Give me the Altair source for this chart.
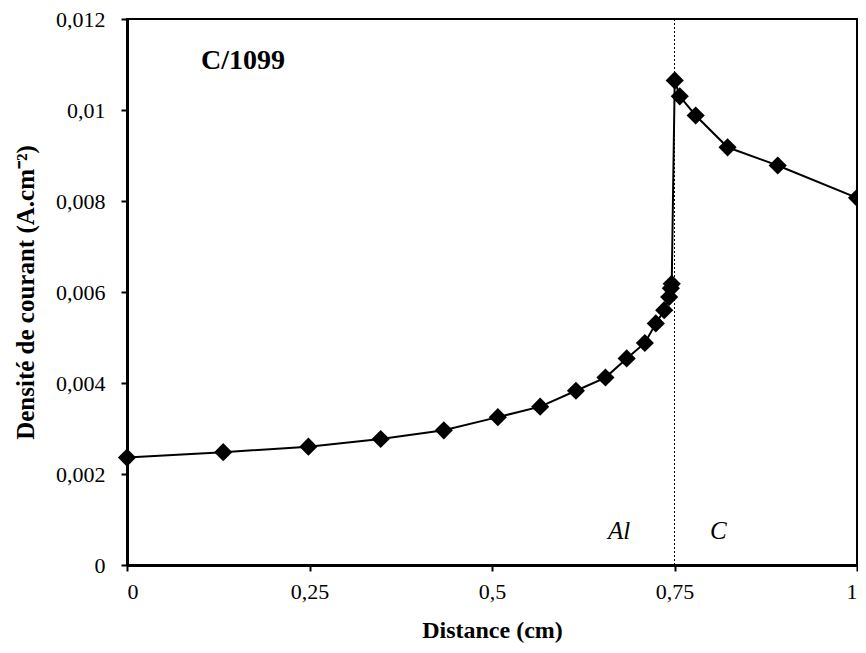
import altair as alt
import pandas as pd

# Data
distance = [0, 0.1318, 0.2485, 0.3475, 0.434, 0.508, 0.566, 0.615, 0.6554, 0.6845,
            0.7094, 0.7244, 0.7359, 0.7427, 0.745, 0.7462, 0.7503, 0.7572, 0.779,
            0.8227, 0.8914, 1.0]
density = [0.00236, 0.00248, 0.0026, 0.00277, 0.00296, 0.00325, 0.00348, 0.00383,
           0.00412, 0.00454, 0.00488, 0.00531, 0.0056, 0.00589, 0.00608, 0.00618,
           0.01065, 0.0103, 0.00988, 0.00918, 0.00878, 0.00807]

interface_x = [0.75]
region_labels = ["Al", "C"]
region_x = [0.674, 0.81]
region_y = [0.00058, 0.00058]
sample_label = ["C/1099"]
sample_x = [0.159]
sample_y = [0.0109]

x_ticks = [0, 0.25, 0.5, 0.75, 1]
y_ticks = [0, 0.002, 0.004, 0.006, 0.008, 0.01, 0.012]

FONT = "Times New Roman, Liberation Serif, Times, serif"

df = pd.DataFrame({"x": distance, "y": density, "i": list(range(len(distance)))})
df_rule = pd.DataFrame({"x": interface_x})
df_reg = pd.DataFrame({"t": region_labels, "x": region_x, "y": region_y})
df_s = pd.DataFrame({"t": sample_label, "x": sample_x, "y": sample_y})

xscale = alt.Scale(domain=[0, 1], nice=False, zero=False)
yscale = alt.Scale(domain=[0, 0.012], nice=False)

xaxis = alt.Axis(
    title="Distance (cm)", values=x_ticks,
    labelExpr="replace(format(datum.value, '~g'), '.', ',')",
    grid=False, domainColor="black", domainWidth=3, tickColor="black", tickWidth=2,
    tickSize=6, labelFont=FONT, labelFontSize=22, labelColor="black", labelPadding=10,
    titleFont=FONT, titleFontSize=24, titleFontWeight="bold", titleColor="black",
    titleBaseline="alphabetic", titleY=72,
)
yaxis = alt.Axis(
    title="Densité de courant (A.cm⁻²)", values=y_ticks,
    labelExpr="replace(format(datum.value, '~g'), '.', ',')",
    grid=False, domainColor="black", domainWidth=3, tickColor="black", tickWidth=2,
    tickSize=6, labelFont=FONT, labelFontSize=22, labelColor="black", labelPadding=16,
    titleFont=FONT, titleFontSize=25, titleFontWeight="bold", titleColor="black",
    titleBaseline="alphabetic", titleX=-94, titleAngle=270,
)

base = alt.Chart(df)

rule = alt.Chart(df_rule).mark_rule(color="black", strokeWidth=1, strokeDash=[2, 2]).encode(
    x=alt.X("x:Q", scale=xscale, axis=xaxis)
)

line = base.mark_line(color="black", strokeWidth=2).encode(
    x=alt.X("x:Q", scale=xscale, axis=xaxis),
    y=alt.Y("y:Q", scale=yscale, axis=yaxis),
    order="i:Q",
)

pts = base.mark_point(shape="diamond", filled=True, size=330, color="black", opacity=1).encode(
    x=alt.X("x:Q", scale=xscale),
    y=alt.Y("y:Q", scale=yscale),
)

reg = alt.Chart(df_reg).mark_text(font=FONT, fontSize=25, fontStyle="italic", color="black",
                                  baseline="alphabetic", align="center").encode(
    x=alt.X("x:Q", scale=xscale), y=alt.Y("y:Q", scale=yscale), text="t:N"
)

samp = alt.Chart(df_s).mark_text(font=FONT, fontSize=28, fontWeight="bold", color="black",
                                 baseline="alphabetic", align="center").encode(
    x=alt.X("x:Q", scale=xscale), y=alt.Y("y:Q", scale=yscale), text="t:N"
)

chart = alt.layer(rule, line, pts, reg, samp).properties(
    width=730, height=546,
    autosize=alt.AutoSizeParams(type="none"),
    padding={"left": 119, "top": 11, "right": 1, "bottom": 79},
    background="white",
).configure_view(stroke="black", strokeWidth=2)

chart.save("out.html", embed_options={"renderer": "svg", "actions": False})
